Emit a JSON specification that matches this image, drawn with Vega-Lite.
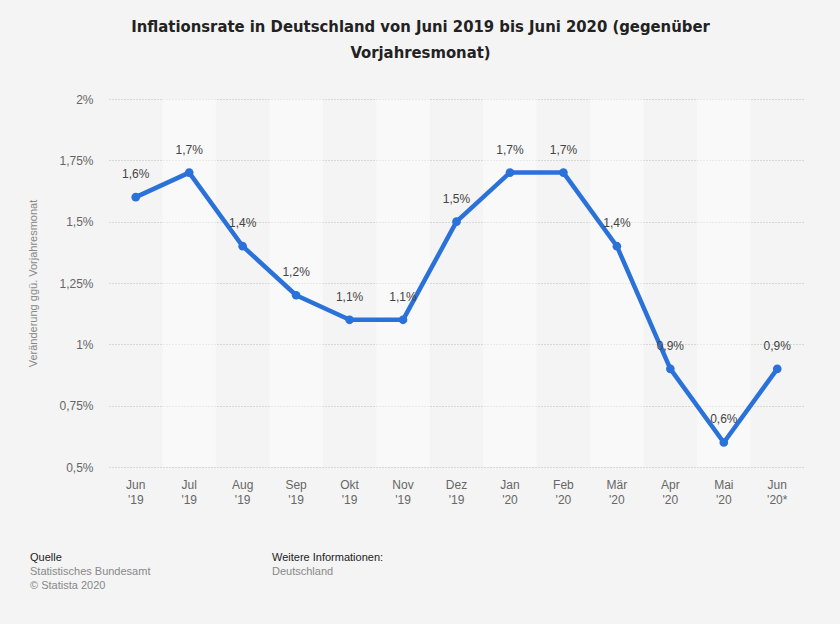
{
  "$schema": "https://vega.github.io/schema/vega-lite/v6.json",
  "autosize": {"type": "none"},
  "width": 695,
  "height": 368,
  "padding": {"left": 109, "top": 99, "right": 36, "bottom": 157},
  "background": "#f4f4f4",
  "title": {
    "text": ["Inflationsrate in Deutschland von Juni 2019 bis Juni 2020 (gegenüber", "Vorjahresmonat)"],
    "font": "DejaVu Sans Condensed",
    "fontSize": 16.5,
    "fontWeight": "bold",
    "color": "#222222",
    "anchor": "middle",
    "dx": -36,
    "lineHeight": 26,
    "offset": 32
  },
  "config": {
    "view": {"stroke": null, "fill": "#f4f4f4"},
    "font": "Liberation Sans"
  },
  "datasets": {
    "main": [
      {"month": "Jun '19", "value": 1.6},
      {"month": "Jul '19", "value": 1.7},
      {"month": "Aug '19", "value": 1.4},
      {"month": "Sep '19", "value": 1.2},
      {"month": "Okt '19", "value": 1.1},
      {"month": "Nov '19", "value": 1.1},
      {"month": "Dez '19", "value": 1.5},
      {"month": "Jan '20", "value": 1.7},
      {"month": "Feb '20", "value": 1.7},
      {"month": "Mär '20", "value": 1.4},
      {"month": "Apr '20", "value": 0.9},
      {"month": "Mai '20", "value": 0.6},
      {"month": "Jun '20*", "value": 0.9}
    ]
  },
  "layer": [
    {
      "data": {"name": "main"},
      "transform": [
        {"window": [{"op": "row_number", "as": "idx"}]},
        {"filter": "datum.idx % 2 == 0"}
      ],
      "mark": {"type": "rect", "color": "#ffffff", "opacity": 0.45},
      "encoding": {
        "x": {
          "field": "month",
          "type": "nominal",
          "scale": {
            "domain": ["Jun '19", "Jul '19", "Aug '19", "Sep '19", "Okt '19", "Nov '19", "Dez '19", "Jan '20", "Feb '20", "Mär '20", "Apr '20", "Mai '20", "Jun '20*"],
            "paddingInner": 0,
            "paddingOuter": 0
          },
          "axis": {
            "title": null,
            "labelAngle": 0,
            "labelExpr": "split(datum.label, ' ')",
            "labelFontSize": 12,
            "labelColor": "#666666",
            "labelLineHeight": 15,
            "labelPadding": 12,
            "ticks": false,
            "domain": false,
            "grid": false
          }
        }
      }
    },
    {
      "data": {"name": "main"},
      "mark": {"type": "line", "color": "#2a72d9", "strokeWidth": 4.5, "strokeJoin": "round"},
      "encoding": {
        "x": {"field": "month", "type": "nominal", "sort": null},
        "y": {
          "field": "value",
          "type": "quantitative",
          "scale": {"domain": [0.5, 2], "nice": false, "zero": false},
          "axis": {
            "values": [0.5, 0.75, 1, 1.25, 1.5, 1.75, 2],
            "labelExpr": "replace(format(datum.value, '.2~f'), '.', ',') + '%'",
            "labelFontSize": 12,
            "labelColor": "#666666",
            "labelPadding": 16,
            "ticks": false,
            "domain": false,
            "grid": true,
            "gridColor": "#bbbbbb",
            "gridDash": [1, 2],
            "title": "Veränderung ggü. Vorjahresmonat",
            "titleFontSize": 11,
            "titleFontWeight": "normal",
            "titleColor": "#888888",
            "titlePadding": 20
          }
        }
      }
    },
    {
      "data": {"name": "main"},
      "mark": {"type": "circle", "color": "#2a72d9", "size": 75, "opacity": 1},
      "encoding": {
        "x": {"field": "month", "type": "nominal", "sort": null},
        "y": {"field": "value", "type": "quantitative"}
      }
    },
    {
      "data": {"name": "main"},
      "transform": [
        {"calculate": "replace(format(datum.value, '.1f'), '.', ',') + '%'", "as": "lbl"}
      ],
      "mark": {"type": "text", "dy": -23, "fontSize": 12, "color": "#444444"},
      "encoding": {
        "x": {"field": "month", "type": "nominal", "sort": null},
        "y": {"field": "value", "type": "quantitative"},
        "text": {"field": "lbl"}
      }
    },
    {
      "data": {"values": [{"t": "Quelle"}]},
      "mark": {"type": "text", "align": "left", "baseline": "middle", "fontSize": 11, "color": "#222222", "x": -79, "y": 459},
      "encoding": {"text": {"field": "t"}}
    },
    {
      "data": {"values": [{"t": "Statistisches Bundesamt"}]},
      "mark": {"type": "text", "align": "left", "baseline": "middle", "fontSize": 11, "color": "#888888", "x": -79, "y": 473},
      "encoding": {"text": {"field": "t"}}
    },
    {
      "data": {"values": [{"t": "© Statista 2020"}]},
      "mark": {"type": "text", "align": "left", "baseline": "middle", "fontSize": 11, "color": "#888888", "x": -79, "y": 487},
      "encoding": {"text": {"field": "t"}}
    },
    {
      "data": {"values": [{"t": "Weitere Informationen:"}]},
      "mark": {"type": "text", "align": "left", "baseline": "middle", "fontSize": 11, "color": "#222222", "x": 163, "y": 459},
      "encoding": {"text": {"field": "t"}}
    },
    {
      "data": {"values": [{"t": "Deutschland"}]},
      "mark": {"type": "text", "align": "left", "baseline": "middle", "fontSize": 11, "color": "#888888", "x": 163, "y": 473},
      "encoding": {"text": {"field": "t"}}
    }
  ]
}
